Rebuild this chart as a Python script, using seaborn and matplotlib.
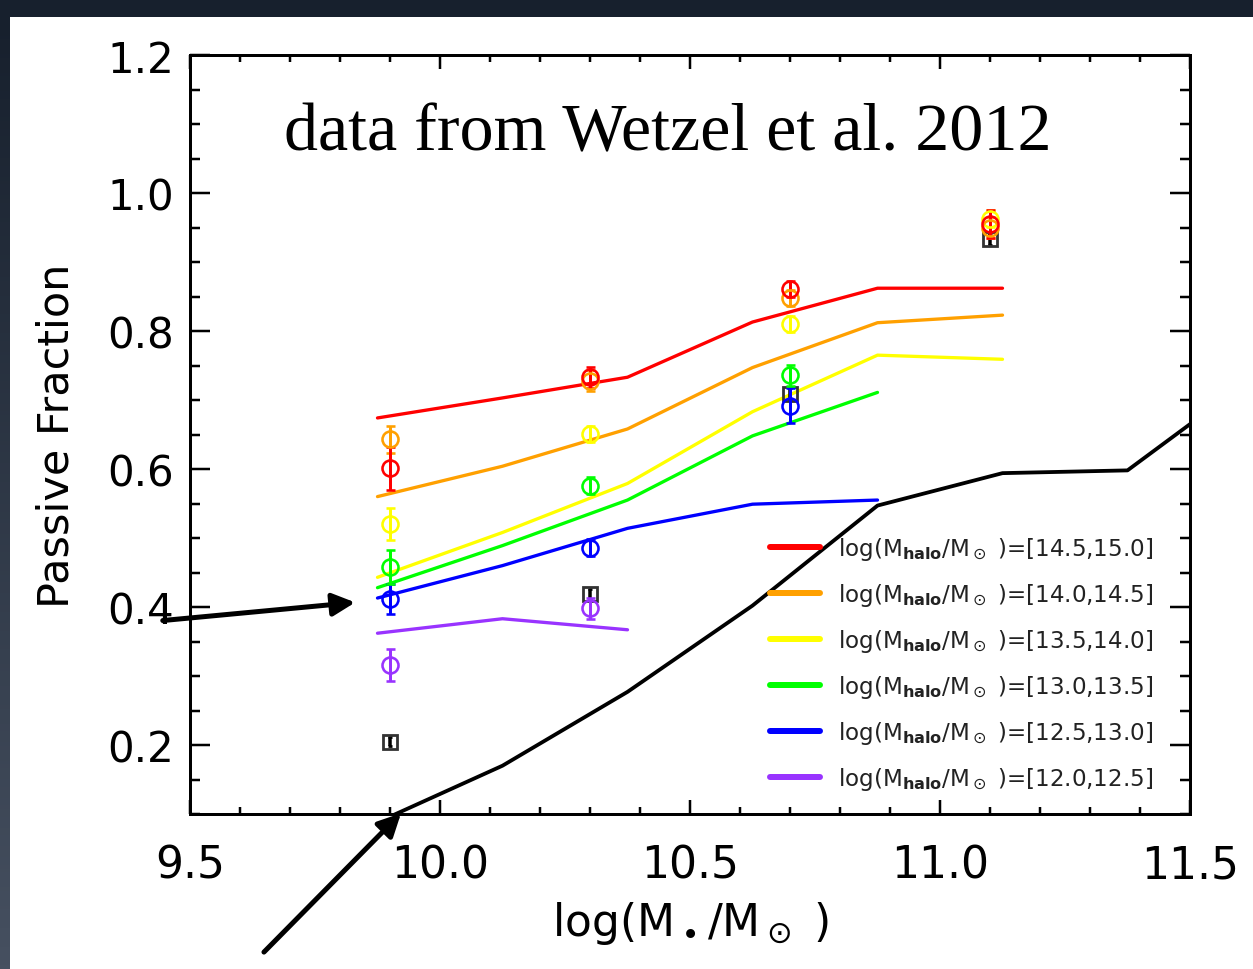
import numpy as np
import pandas as pd
import matplotlib
matplotlib.use("Agg")
import matplotlib.pyplot as plt
import seaborn as sns
from matplotlib.lines import Line2D
from matplotlib.patches import Rectangle
from matplotlib.colors import LinearSegmentedColormap

# ---------------- data ----------------
bins = ["[14.5,15.0]", "[14.0,14.5]", "[13.5,14.0]", "[13.0,13.5]", "[12.5,13.0]", "[12.0,12.5]"]
colors = ["#ff0000", "#ffa000", "#ffff00", "#00ff00", "#0000ff", "#9933ff"]

x_model = [9.875, 10.125, 10.375, 10.625, 10.875, 11.125]
model_red = [0.674, 0.703, 0.733, 0.813, 0.862, 0.862]
model_orange = [0.560, 0.604, 0.658, 0.747, 0.812, 0.823]
model_yellow = [0.443, 0.508, 0.579, 0.683, 0.765, 0.759]
model_green = [0.428, 0.489, 0.555, 0.648, 0.711, np.nan]
model_blue = [0.413, 0.460, 0.514, 0.549, 0.555, np.nan]
model_purple = [0.362, 0.383, 0.367, np.nan, np.nan, np.nan]

x_all = [9.875, 10.125, 10.375, 10.625, 10.875, 11.125, 11.375, 11.625]
model_all = [0.088, 0.170, 0.277, 0.402, 0.547, 0.594, 0.598, 0.732]

x_data = [9.9, 10.3, 10.7, 11.1]
data_red = [0.601, 0.733, 0.861, 0.955]
err_red = [0.031, 0.015, 0.012, 0.020]
data_orange = [0.643, 0.728, 0.848, 0.950]
err_orange = [0.020, 0.015, 0.012, 0.015]
data_yellow = [0.520, 0.651, 0.810, 0.963]
err_yellow = [0.023, 0.012, 0.012, 0.012]
data_green = [0.458, 0.576, 0.736, np.nan]
err_green = [0.024, 0.012, 0.015, np.nan]
data_blue = [0.412, 0.486, 0.692, np.nan]
err_blue = [0.022, 0.012, 0.025, np.nan]
data_purple = [0.316, 0.398, np.nan, np.nan]
err_purple = [0.023, 0.015, np.nan, np.nan]
data_all = [0.205, 0.419, 0.709, 0.933]
err_all = [0.007, 0.007, 0.008, 0.008]

xticks = [9.5, 10.0, 10.5, 11.0, 11.5]
yticks = [0.2, 0.4, 0.6, 0.8, 1.0, 1.2]

models = [model_red, model_orange, model_yellow, model_green, model_blue, model_purple]
datas = [data_red, data_orange, data_yellow, data_green, data_blue, data_purple]
errs = [err_red, err_orange, err_yellow, err_green, err_blue, err_purple]

# ---------------- figure ----------------
sns.set_theme(style="ticks")
plt.rcParams["font.family"] = ["DejaVu Sans"]
plt.rcParams["mathtext.default"] = "regular"
for k in ["text.color", "axes.labelcolor", "xtick.color", "ytick.color", "axes.edgecolor"]:
    plt.rcParams[k] = "black"

W, H, DPI = 1253, 970, 100
PT = 72.0 / DPI  # points per pixel
fig = plt.figure(figsize=(W / DPI, H / DPI), dpi=DPI, facecolor="white")

# dark frame strips
fig.patches.append(Rectangle((0, 1 - 18 / H), 1, 18 / H, transform=fig.transFigure,
                             facecolor="#17202d", edgecolor="none", zorder=-5))
bax = fig.add_axes([0, 0, 10 / W, 1 - 18 / H])
grad = np.linspace(0, 1, 256).reshape(-1, 1)
cm = LinearSegmentedColormap.from_list("g", ["#17202d", "#465060"])
bax.imshow(grad, aspect="auto", cmap=cm, extent=[0, 1, 0, 1], origin="upper")
bax.set_axis_off()

ax = fig.add_axes([190 / W, 1 - 815 / H, 1000 / W, 759 / H])
ax.set_facecolor("white")

# model lines via seaborn
rows = []
for b, m in zip(bins, models):
    for xv, yv in zip(x_model, m):
        rows.append({"x": xv, "y": yv, "bin": b})
df = pd.DataFrame(rows).dropna()
sns.lineplot(data=df, x="x", y="y", hue="bin", palette=dict(zip(bins, colors)),
             estimator=None, sort=False, legend=False, lw=3.3 * PT, ax=ax, zorder=3)
df_all = pd.DataFrame({"x": x_all, "y": model_all})
sns.lineplot(data=df_all, x="x", y="y", color="black", estimator=None, sort=False,
             lw=3.8 * PT, ax=ax, zorder=3)

# data points: black squares first
ax.errorbar(x_data, data_all, yerr=err_all, fmt="s", ms=14 * PT, mfc="none",
            mec="#333333", mew=2.8 * PT, ecolor="black", elinewidth=3.5 * PT,
            capsize=2.5 * PT, capthick=2.5 * PT, zorder=4)
for c, d, e in reversed(list(zip(colors, datas, errs))):
    ax.errorbar(x_data, d, yerr=e, fmt="o", ms=16 * PT, mfc="none", mec=c,
                mew=2.6 * PT, ecolor=c, elinewidth=3 * PT, capsize=4.5 * PT,
                capthick=3 * PT, zorder=5)

ax.set_xlim(9.5, 11.5)
ax.set_ylim(0.1, 1.2)
ax.set_xticks(xticks)
ax.set_xticklabels([f"{t:.1f}" for t in xticks])
ax.set_yticks(yticks)
ax.set_yticklabels([f"{t:.1f}" for t in yticks])
ax.set_xticks(np.arange(9.5, 11.51, 0.1), minor=True)
ax.set_yticks(np.arange(0.1, 1.201, 0.05), minor=True)
for s in ax.spines.values():
    s.set_linewidth(3 * PT)
    s.set_color("black")
ax.tick_params(axis="both", which="both", direction="in", top=True, right=True,
               color="black", labelcolor="black", width=2.5 * PT)
ax.tick_params(axis="y", which="major", length=20 * PT, labelsize=42 * PT, pad=16 * PT)
ax.tick_params(axis="y", which="minor", length=10 * PT)
ax.tick_params(axis="x", which="major", length=14 * PT, labelsize=44 * PT, pad=30 * PT)
ax.tick_params(axis="x", which="minor", length=7 * PT)

ax.set_xlabel(r"log(M$_\bullet$/M$_\odot$ )", fontsize=44 * PT, labelpad=12 * PT, color="black")
ax.set_ylabel("Passive Fraction", fontsize=43 * PT, labelpad=30 * PT, color="black")

ax.text(0.478, 0.876, "data from Wetzel et al. 2012", transform=ax.transAxes,
        ha="center", va="baseline", fontsize=68 * PT, color="black",
        family=["Liberation Serif", "DejaVu Serif"])

handles = [Line2D([0], [0], color=c, lw=6 * PT) for c in colors]
labels = [r"log(M$_{\mathbf{halo}}$/M$_\odot$ )=" + b for b in bins]
leg = ax.legend(handles, labels, loc="upper left", bbox_to_anchor=(0.58, 0.3676),
                frameon=False, fontsize=23 * PT, handlelength=2.17, handletextpad=0.78,
                labelspacing=0.83, borderpad=0, borderaxespad=0)
for t in leg.get_texts():
    t.set_color("#222222")

# arrows
ax.annotate("", xy=(9.836, 0.407), xytext=(9.44, 0.380), xycoords="data",
            annotation_clip=False,
            arrowprops=dict(arrowstyle="-|>", color="black", lw=5 * PT, mutation_scale=34))
ax.annotate("", xy=(9.926, 0.104), xytext=(9.644, -0.103), xycoords="data",
            annotation_clip=False,
            arrowprops=dict(arrowstyle="-|>", color="black", lw=5 * PT, mutation_scale=34))

fig.savefig("out.png", dpi=DPI, facecolor="white")
